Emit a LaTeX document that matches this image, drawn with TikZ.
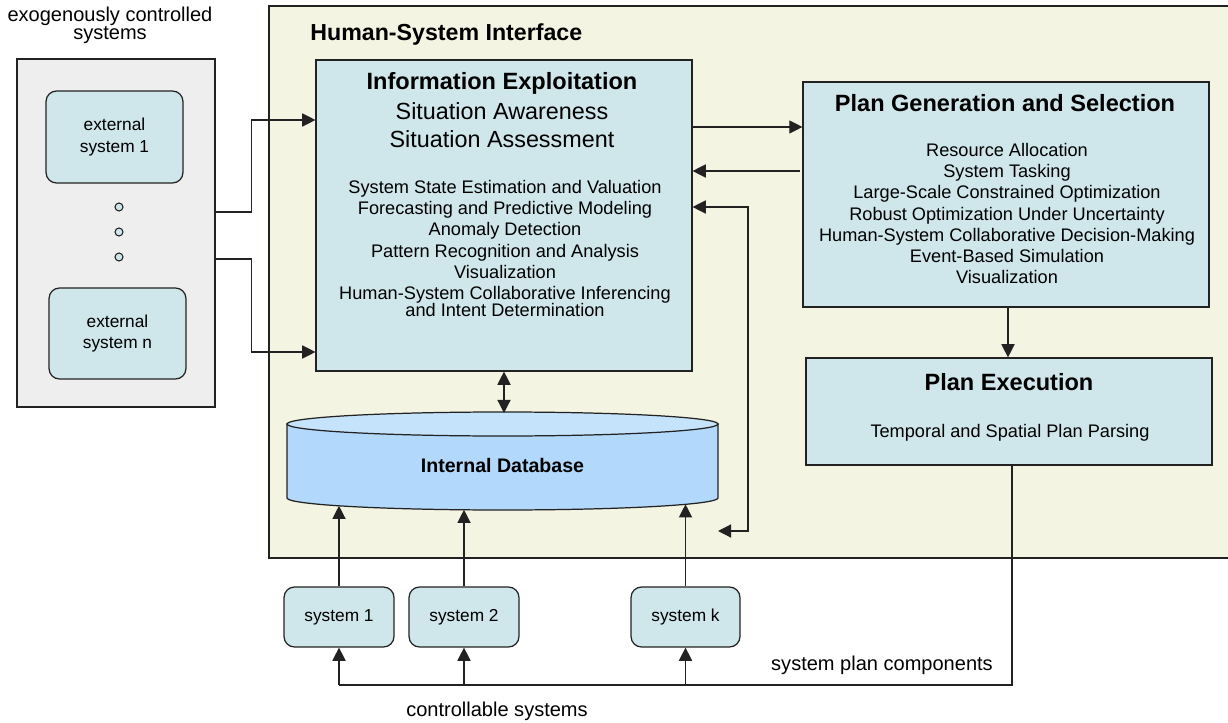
\documentclass[tikz,border=0pt]{standalone}
\usepackage{fontspec}
\setmainfont{Liberation Sans}
\usetikzlibrary{arrows.meta}

\definecolor{linec}{HTML}{222222}
\definecolor{boxblue}{HTML}{CFE6EA}
\definecolor{hsibg}{HTML}{F3F4E1}
\definecolor{exogray}{HTML}{EEEEEE}
\definecolor{dbside}{HTML}{B2D8FB}
\definecolor{dbtop}{HTML}{C6E3FC}

\newcommand{\titlefont}{\fontsize{13.4}{16}\bfseries\selectfont}
\newcommand{\subfont}{\fontsize{13.3}{15.9}\selectfont}
\newcommand{\bodyfont}{\fontsize{10.35}{12.07}\selectfont}
\newcommand{\outerfont}{\fontsize{11.4}{10.3}\selectfont\lineskiplimit=-20pt}
\newcommand{\sysfont}{\fontsize{9.85}{12}\selectfont}
\newcommand{\dbfont}{\fontsize{11.15}{13}\bfseries\selectfont}
\newcommand{\hsifont}{\fontsize{13.2}{15}\bfseries\selectfont}

\tikzset{
  box/.style={draw=linec, fill=boxblue, line width=0.7pt},
  sysbox/.style={box, rounded corners=6pt, align=center, font=\sysfont},
  graybox/.style={draw=linec, fill=exogray, line width=0.7pt},
  dot/.style={circle, draw=linec, fill=boxblue, line width=0.6pt, minimum size=0.16cm, inner sep=0pt},
  conn/.style={draw=linec, line width=0.7pt},
  arr/.style={conn, -{Triangle[length=7.5pt,width=7.5pt]}},
  dblarr/.style={conn, {Triangle[length=7.5pt,width=7.5pt]}-{Triangle[length=7.5pt,width=7.5pt]}}
}

\begin{document}
\begin{tikzpicture}[x=0.02cm, y=-0.02cm]
  \clip (0,0) rectangle (1228,723);

  % exogenously controlled systems
  \node[font=\outerfont, align=center] (exolabel) at (110,25) {exogenously controlled\\systems};
  \node[graybox, minimum width=3.96cm, minimum height=6.96cm] (exo) at (116,233) {};
  \node[sysbox, minimum width=2.74cm, minimum height=1.84cm] (ext1) at (114.5,137) {external\\system 1};
  \node[sysbox, minimum width=2.74cm, minimum height=1.82cm] (extn) at (117.5,333.5) {external\\system n};
  \foreach \y/\name in {207/dot1, 232/dot2, 257/dot3}
    \node[dot] (\name) at (119,\y) {};

  % human-system interface
  \filldraw[fill=hsibg, draw=linec, line width=0.7pt] (269,6) rectangle (1250,558);
  \node[font=\hsifont, anchor=west, inner sep=0pt] (hsi) at (310,35) {Human-System Interface};

  % information exploitation
  \node[box, minimum width=7.52cm, minimum height=6.22cm] (ie) at (504,215.5) {};
  \node[font=\titlefont] (ietitle) at (502,83) {Information Exploitation};
  \node[font=\subfont, align=center] (iesub) at (502,125) {Situation Awareness\\Situation Assessment};
  \node[font=\bodyfont, align=center] (ielist) at (505,248.5) {System State Estimation and Valuation\\
    Forecasting and Predictive Modeling\\Anomaly Detection\\Pattern Recognition and Analysis\\
    Visualization\\Human-System Collaborative Inferencing\\[-2.4pt]and Intent Determination};

  % plan generation
  \node[box, minimum width=8.12cm, minimum height=4.5cm] (pg) at (1006,194.5) {};
  \node[font=\titlefont] (pgtitle) at (1005,103) {Plan Generation and Selection};
  \node[font=\bodyfont, align=center] (pglist) at (1007,213.5) {Resource Allocation\\System Tasking\\
    Large-Scale Constrained Optimization\\Robust Optimization Under Uncertainty\\
    Human-System Collaborative Decision-Making\\Event-Based Simulation\\Visualization};

  % plan execution
  \node[box, minimum width=8.12cm, minimum height=2.14cm] (pe) at (1009,411.5) {};
  \node[font=\titlefont] (petitle) at (1009,382) {Plan Execution};
  \node[font=\bodyfont] (pesub) at (1010,433) {Temporal and Spatial Plan Parsing};

  % internal database
  \filldraw[fill=dbside, draw=linec, line width=0.7pt] (287,424) -- (287,498)
    arc (180:360:4.31cm and 0.24cm) -- (718,424) -- cycle;
  \filldraw[fill=dbtop, draw=linec, line width=0.7pt] (502.5,424) ellipse [x radius=4.31cm, y radius=0.24cm];
  \node[font=\dbfont] (db) at (502.5,465) {Internal Database};

  % controllable systems
  \node[sysbox, minimum width=2.2cm, minimum height=1.2cm] (s1) at (339,617) {system 1};
  \node[sysbox, minimum width=2.2cm, minimum height=1.2cm] (s2) at (464,617) {system 2};
  \node[sysbox, minimum width=2.18cm, minimum height=1.2cm] (sk) at (685.5,617) {system k};
  \node[font=\outerfont] (planlabel) at (882,665) {system plan components};
  \node[font=\outerfont] (ctrllabel) at (497,711) {controllable systems};

  % connectors
  \draw[arr] (exo.east |- 0,212) -- ++(36,0) |- (ie.west |- 0,120);
  \draw[arr] (exo.east |- 0,259) -- ++(36,0) |- (ie.west |- 0,352);
  \draw[arr] (ie.east |- 0,127) -- (pg.west |- 0,127);
  \draw[arr] (800,171) -- (ie.east |- 0,171);
  \draw[dblarr] (ie.east |- 0,207) -| (748,531) -- (718,531);
  \draw[dblarr] (ie.south -| 504,0) -- (504,413);
  \draw[arr] (pg.south -| 1008,0) -- (pe.north -| 1008,0);
  \foreach \s/\yb in {s1/505.8, s2/509.8, sk/504.3}
    \draw[arr] (\s.north) -- (\s.north |- 0,\yb);
  \draw[conn] (pe.south -| 1012,0) |- (s1 |- 0,685);
  \foreach \s in {s1, s2, sk}
    \draw[arr] (\s |- 0,685) -- (\s.south);
\end{tikzpicture}
\end{document}
